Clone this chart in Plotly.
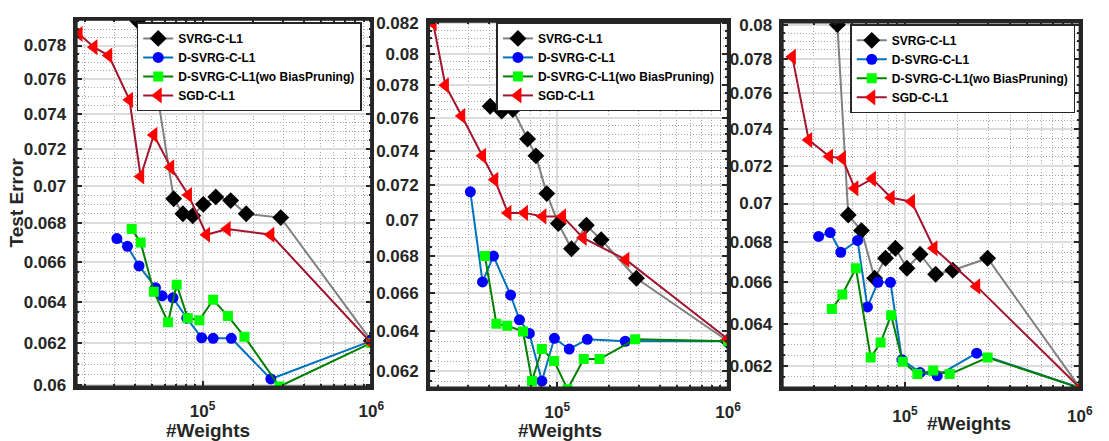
import numpy as np
import plotly.graph_objects as go

# ---------------- data ----------------
names = ["SVRG-C-L1", "D-SVRG-C-L1", "D-SVRG-C-L1(wo BiasPruning)", "SGD-C-L1"]

# Panel 1
p1_svrg_x = [41200, 47200, 52400, 67400, 76400, 87400, 101000, 119700, 146700, 181300, 290500, 1000000]
p1_svrg_y = [0.0795, 0.0770, 0.0759, 0.0693, 0.0685, 0.0684, 0.0690, 0.0694, 0.0692, 0.0685, 0.0683, 0.0621]
p1_dsvrg_x = [31050, 35870, 42000, 52560, 57540, 66750, 80600, 98700, 115500, 148000, 253700, 1000000]
p1_dsvrg_y = [0.0672, 0.0668, 0.0658, 0.0647, 0.0643, 0.0642, 0.0632, 0.06225, 0.06222, 0.06222, 0.0603, 0.0621]
p1_wob_x = [38000, 42950, 51400, 62400, 70200, 81700, 95700, 115500, 141300, 177000, 285300, 1000000]
p1_wob_y = [0.0677, 0.0670, 0.0645, 0.0630, 0.06485, 0.0632, 0.0631, 0.0641, 0.0633, 0.0623, 0.05995, 0.0620]
p1_sgd_x = [18530, 22700, 27770, 36850, 42950, 51400, 64700, 82400, 105500, 139900, 253700, 1000000]
p1_sgd_y = [0.0787, 0.0779, 0.0774, 0.0748, 0.0705, 0.0728, 0.0710, 0.0695, 0.0674, 0.0677, 0.0674, 0.0620]

# Panel 2
p2_svrg_x = [40400, 47200, 54880, 66980, 74880, 86700, 101300, 121000, 147900, 180600, 290500, 1000000]
p2_svrg_y = [0.0767, 0.0764, 0.0765, 0.0747, 0.0737, 0.0715, 0.0698, 0.0684, 0.0697, 0.0689, 0.0668, 0.0635]
p2_dsvrg_x = [30930, 36450, 42220, 53210, 59980, 68540, 81150, 96080, 117360, 149800, 249900, 1000000]
p2_dsvrg_y = [0.0716, 0.0666, 0.0680, 0.0659, 0.0646, 0.0639, 0.0615, 0.06365, 0.0631, 0.0636, 0.0635, 0.0635]
p2_wob_x = [37640, 43930, 50860, 62960, 71000, 81150, 95700, 114700, 142800, 176600, 285600, 1000000]
p2_wob_y = [0.0680, 0.0644, 0.0643, 0.0640, 0.0615, 0.0631, 0.0625, 0.0611, 0.0626, 0.0626, 0.0636, 0.0635]
p2_sgd_x = [18720, 22080, 27540, 36450, 42970, 51330, 64120, 82220, 107300, 141500, 251800, 1000000]
p2_sgd_y = [0.0820, 0.0780, 0.0761, 0.0737, 0.0723, 0.0704, 0.0704, 0.0702, 0.0702, 0.0690, 0.0678, 0.0636]

# Panel 3
p3_svrg_x = [41080, 47400, 56410, 67080, 77380, 88150, 102640, 122000, 149700, 187500, 296700, 1000000]
p3_svrg_y = [0.0800, 0.0694, 0.0686, 0.0662, 0.0672, 0.0677, 0.0667, 0.0674, 0.0664, 0.0666, 0.0672, 0.0610]
p3_dsvrg_x = [32080, 37350, 42940, 53560, 61000, 70000, 82600, 96150, 122000, 152900, 257000, 1000000]
p3_dsvrg_y = [0.0683, 0.0685, 0.0675, 0.0681, 0.0648, 0.0660, 0.0660, 0.0623, 0.0617, 0.06155, 0.0626, 0.0610]
p3_wob_x = [38190, 43840, 52390, 63680, 72520, 83370, 96920, 117800, 145100, 180300, 296700, 1000000]
p3_wob_y = [0.0647, 0.0654, 0.0667, 0.0624, 0.0631, 0.0644, 0.0622, 0.06163, 0.0618, 0.06163, 0.0624, 0.0610]
p3_sgd_x = [22700, 28160, 37020, 43840, 51700, 65100, 83370, 108970, 146400, 257000, 1000000]
p3_sgd_y = [0.0781, 0.0734, 0.0725, 0.0724, 0.0708, 0.0713, 0.0703, 0.0701, 0.0677, 0.0658, 0.0610]

panels = [
    [(p1_svrg_x, p1_svrg_y), (p1_dsvrg_x, p1_dsvrg_y), (p1_wob_x, p1_wob_y), (p1_sgd_x, p1_sgd_y)],
    [(p2_svrg_x, p2_svrg_y), (p2_dsvrg_x, p2_dsvrg_y), (p2_wob_x, p2_wob_y), (p2_sgd_x, p2_sgd_y)],
    [(p3_svrg_x, p3_svrg_y), (p3_dsvrg_x, p3_dsvrg_y), (p3_wob_x, p3_wob_y), (p3_sgd_x, p3_sgd_y)],
]

y_ticks = [
    [0.06, 0.062, 0.064, 0.066, 0.068, 0.07, 0.072, 0.074, 0.076, 0.078],
    [0.062, 0.064, 0.066, 0.068, 0.07, 0.072, 0.074, 0.076, 0.078, 0.08, 0.082],
    [0.062, 0.064, 0.066, 0.068, 0.07, 0.072, 0.074, 0.076, 0.078, 0.08],
]
x_ticks = [1e5, 1e6]
x_ticktext = ["10<sup>5</sup>", "10<sup>6</sup>"]

# ---------------- style ----------------
line_colors = ["#808080", "#0072BD", "#008000", "#A2142F"]
marker_colors = ["#000000", "#0000FF", "#00FF00", "#FF0000"]
symbols = ["diamond", "circle", "square", "triangle-left"]
msizes = [13, 11, 10, 14]

FONT = "Liberation Sans, Arial, Helvetica, sans-serif"
TXT = "#262626"

x_ranges = [[4.252, 6.0], [4.2473, 6.0], [4.2994, 6.0]]
y_ranges = [[-1.22227, -1.09919], [-1.21343, -1.08562], [-1.2146, -1.0961]]
x_domains = [[0.0697, 0.3388], [0.3913, 0.6643], [0.7139, 0.9853]]
y_domains = [[0.1066, 0.9705], [0.1043, 0.966], [0.1043, 0.9644]]
x_label_standoff = [7, 7, 11]
# legend anchored by its top-right corner
legend_pos = [(366 / 1109, 1 - 16 / 441), (730 / 1109, 1 - 16 / 441), (1088 / 1109, 1 - 18 / 441)]

fig = go.Figure()

minor_x = [m * 10 ** e for e in (4, 5) for m in range(2, 10)]
shapes = []

for i, panel in enumerate(panels):
    xa = "x" if i == 0 else f"x{i+1}"
    ya = "y" if i == 0 else f"y{i+1}"
    lg = "legend" if i == 0 else f"legend{i+1}"
    for k, (xs, ys) in enumerate(panel):
        fig.add_trace(go.Scatter(
            x=xs, y=ys, mode="lines+markers", name=names[k],
            xaxis=xa, yaxis=ya, legend=lg,
            line=dict(color=line_colors[k], width=2),
            marker=dict(symbol=symbols[k], size=msizes[k], color=marker_colors[k],
                        line=dict(width=0)),
        ))
    lo, hi = 10 ** y_ranges[i][0], 10 ** y_ranges[i][1]
    minor_y = list(np.round(np.arange(0.0595, 0.0825, 0.0005), 5))
    minor_y = [v for v in minor_y if lo <= v <= hi]
    axis_common = dict(
        showline=True, linecolor="#262626", linewidth=2.5, mirror="allticks",
        ticks="inside", ticklen=6, tickwidth=1.5, tickcolor="#262626",
        showgrid=True, gridcolor="#dcdcdc", gridwidth=2,
        zeroline=False,
        tickfont=dict(family=FONT, size=17, color=TXT, weight="bold"),
    )
    minor_common = dict(ticks="inside", ticklen=3, tickcolor="#262626", showgrid=True,
                        gridcolor="#a8a8a8", griddash="1px,2px", gridwidth=1)
    xkey = "xaxis" if i == 0 else f"xaxis{i+1}"
    ykey = "yaxis" if i == 0 else f"yaxis{i+1}"
    fig.update_layout({
        xkey: dict(axis_common, type="log", range=x_ranges[i], domain=x_domains[i],
                   anchor=ya, tickvals=x_ticks, ticktext=x_ticktext,
                   ticklabelstandoff=x_label_standoff[i],
                   minor=dict(minor_common, tickvals=minor_x)),
        ykey: dict(axis_common, type="log", range=y_ranges[i], domain=y_domains[i],
                   anchor=xa, tickvals=y_ticks[i],
                   ticktext=[("%g" % v) for v in y_ticks[i]],
                   ticklabelstandoff=4,
                   minor=dict(minor_common, tickvals=minor_y)),
        lg: dict(x=legend_pos[i][0], y=legend_pos[i][1], xanchor="right", yanchor="top",
                 bgcolor="white", bordercolor="#262626", borderwidth=1.5,
                 font=dict(family=FONT, size=12, color="#000000", weight="bold"),
                 tracegroupgap=0, itemwidth=30),
    })
    shapes.append(dict(type="rect", xref=f"{xa} domain", yref=f"{ya} domain",
                       x0=0, x1=1, y0=0, y1=1, layer="above",
                       line=dict(color="#262626", width=2.5), fillcolor="rgba(0,0,0,0)"))

annotations = [
    dict(text="Test Error", x=17 / 1109, y=1 - 203 / 441, textangle=-90),
    dict(text="#Weights", x=210 / 1109, y=1 - 439 / 441),
    dict(text="#Weights", x=566.7 / 1109, y=1 - 439 / 441),
    dict(text="#Weights", x=980 / 1109, y=1 - 432 / 441),
]
fig.update_layout(annotations=[
    dict(a, xref="paper", yref="paper", showarrow=False, xanchor="center", yanchor="middle",
         font=dict(family=FONT, size=19, color=TXT, weight="bold"))
    for a in annotations
])

fig.update_layout(
    width=1109, height=441,
    margin=dict(l=0, r=0, t=0, b=0),
    paper_bgcolor="white", plot_bgcolor="white",
    showlegend=True, shapes=shapes,
)

fig.write_html("out.html")
